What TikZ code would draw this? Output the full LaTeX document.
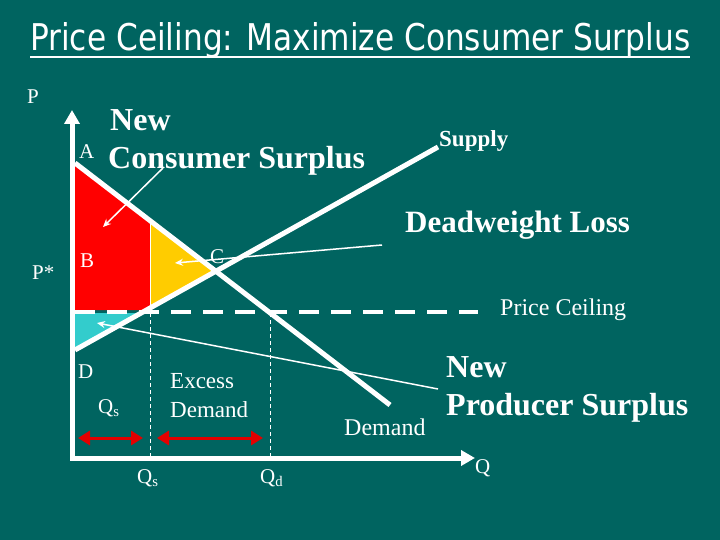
\documentclass[tikz,border=0pt]{standalone}
\usepackage{fontspec}
\setmainfont{Liberation Serif}
\newfontfamily\titlefont{DejaVu Sans}
\usetikzlibrary{arrows.meta}
\definecolor{slidebg}{RGB}{0,100,96}
\definecolor{csred}{RGB}{255,0,0}
\definecolor{dwlyellow}{RGB}{255,204,0}
\definecolor{pscyan}{RGB}{51,204,204}
\definecolor{gapred}{RGB}{228,0,0}

\begin{document}
\begin{tikzpicture}[x=1pt,y=-1pt,
  lbl/.style={text=white,anchor=base west,inner sep=0pt,font=\fontsize{21}{24}\selectfont},
  big/.style={lbl,font=\fontsize{32}{36}\selectfont\bfseries},
  curve/.style={white,line width=5pt},
  pointer/.style={white,line width=1.5pt,-{Stealth[length=8pt,width=7pt]}},
  gap/.style={gapred,line width=3pt,{Triangle[length=12pt,width=14pt]}-{Triangle[length=12pt,width=14pt]}}]
% slide background
\fill[slidebg] (0,0) rectangle (720,540);

% title
\node[text=white,anchor=base west,inner sep=0pt] (title) at (30,51)
  {\resizebox{660pt}{28pt}{\titlefont Price Ceiling: Maximize Consumer Surplus}};
\draw[white,line width=2pt] (30,57) -- (690,57);

% key points of the graph
\coordinate (origin) at (72,458);
\coordinate (ytip) at (72,110);
\coordinate (xtip) at (475,458);
\coordinate (dtop) at (75,163);
\coordinate (dend) at (390,405);
\coordinate (sbot) at (75,350);
\coordinate (send) at (438,147);
\coordinate (eq) at (216,271);

% surplus areas
\fill[csred] (dtop) -- (150,221) -- (150,310) -- (75,310) -- cycle;
\fill[dwlyellow] (150,221) -- (eq) -- (150,308) -- cycle;
\fill[pscyan] (75,313) -- (143,313) -- (sbot) -- cycle;
\draw[white,line width=0.8pt] (150,221) -- (150,310);

% quantities at the ceiling
\draw[white,line width=0.8pt,dash pattern=on 4pt off 3pt] (150,313) -- (150,458);
\draw[white,line width=0.8pt,dash pattern=on 4pt off 3pt] (270,313) -- (270,458);
\draw[white,line width=4pt,dash pattern=on 20pt off 12pt] (75,312) -- (478,312);

% demand and supply
\draw[curve] (dtop) -- (dend);
\draw[curve] (sbot) -- (send);

% axes
\draw[white,line width=5pt,line join=miter,{Triangle[length=14pt,width=15pt]}-{Triangle[length=14pt,width=15pt]}]
  (ytip) -- (origin) -- (xtip);

% shortage arrows
\draw[gap] (78,438) -- (143,438);
\draw[gap] (157,438) -- (263,438);

% pointers
\coordinate (csfrom) at (163,168);
\coordinate (csto) at (103,227);
\coordinate (dwlfrom) at (382,245);
\coordinate (dwlto) at (175,263);
\coordinate (psfrom) at (438,389);
\coordinate (psto) at (97,323);
\draw[pointer] (csfrom) -- (csto);
\draw[pointer] (dwlfrom) -- (dwlto);
\draw[pointer] (psfrom) -- (psto);

% labels
\node[lbl] (plab) at (27,104) {P};
\node[lbl] (alab) at (79,159) {A};
\node[big] (csnew) at (110,131) {New};
\node[big] (cs) at (108,169) {Consumer Surplus};
\node[lbl,font=\fontsize{23}{24}\selectfont\bfseries] (supply) at (439,147) {Supply};
\node[big,font=\fontsize{31}{36}\selectfont\bfseries] (dwl) at (405,233) {Deadweight Loss};
\node[lbl] (blab) at (80,267) {B};
\node[lbl] (pstar) at (32,279) {P*};
\node[lbl] (clab) at (210,263) {C};
\node[lbl,font=\fontsize{24}{24}\selectfont] (ceiling) at (500,315) {Price Ceiling};
\node[lbl] (dlab) at (78,378) {D};
\node[lbl] (qsin) at (98,413) {Q\textsubscript{s}};
\node[lbl,font=\fontsize{23}{29}\selectfont,align=left,anchor=north west] (excess) at (170,373) {Excess\\Demand};
\node[lbl,font=\fontsize{24}{24}\selectfont] (demand) at (344,435) {Demand};
\node[big] (psnew) at (446,377) {New};
\node[big] (ps) at (446,415) {Producer Surplus};
\node[lbl] (qs) at (137,483) {Q\textsubscript{s}};
\node[lbl] (qd) at (260,483) {Q\textsubscript{d}};
\node[lbl] (qlab) at (475,473) {Q};
\end{tikzpicture}
\end{document}
